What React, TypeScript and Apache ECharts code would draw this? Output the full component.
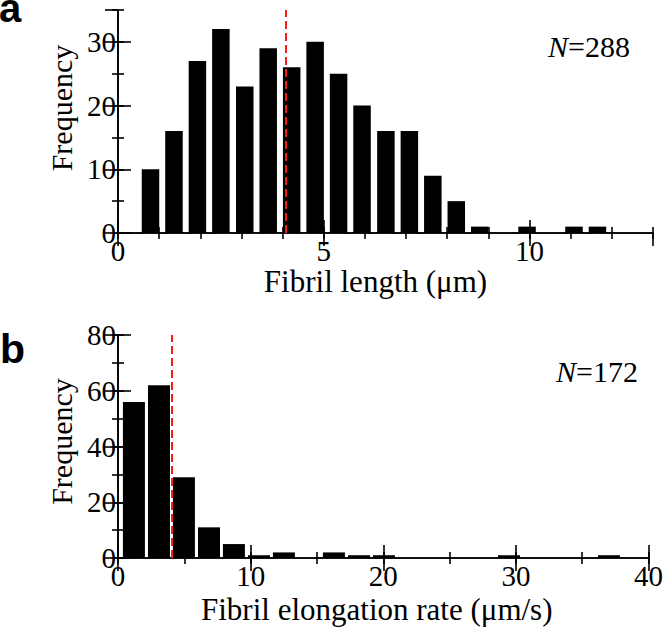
import React, { useEffect, useRef } from "react";
import * as echarts from "echarts";

// Panel a: fibril length histogram
const lengthBinCenters = [0.79, 1.36, 1.93, 2.5, 3.08, 3.65, 4.22, 4.79, 5.36, 5.93, 6.51, 7.08, 7.65, 8.22, 8.79, 9.36, 9.94, 10.51, 11.08, 11.65];
const lengthCounts = [10, 16, 27, 32, 23, 29, 26, 30, 25, 20, 16, 16, 9, 5, 1, 0, 1, 0, 1, 1];
const lengthMean = 4.08;
const lengthN = "288";

// Panel b: elongation rate histogram
const rateBinCenters = [1.2, 3.09, 4.97, 6.86, 8.74, 10.63, 12.51, 14.4, 16.28, 18.17, 20.05, 21.94, 23.82, 25.71, 27.59, 29.48, 31.36, 33.25, 35.13, 37.02];
const rateCounts = [56, 62, 29, 11, 5, 1, 2, 0, 2, 1, 1, 0, 0, 0, 0, 1, 0, 0, 0, 1];
const rateMean = 4.09;
const rateN = "172";

const FONT = "'Liberation Serif', 'Times New Roman', serif";
const FS = 29;

function axesFor(
  gridIndex: number,
  dim: "x" | "y",
  min: number,
  max: number,
  major: number,
  minor: number,
  name: string,
  nameGap: number,
  namePad: number[],
  nameSize: number,
  hideMax: boolean
) {
  const main = dim === "x" ? "bottom" : "left";
  const other = dim === "x" ? "top" : "right";
  const common = { type: "value", gridIndex, min, max, splitLine: { show: false } };
  const line = { show: true, lineStyle: { color: "#000", width: 1.6 } };
  return [
    {
      ...common,
      position: main,
      interval: major,
      axisLine: line,
      axisTick: { show: true, inside: true, length: 13, lineStyle: { color: "#000", width: 1.6 } },
      axisLabel: {
        show: true,
        color: "#000",
        fontFamily: FONT,
        fontSize: FS,
        margin: dim === "x" ? 3 : 2,
        showMaxLabel: !hideMax,
      },
      name,
      nameLocation: "middle",
      nameGap,
      nameTextStyle: { color: "#000", fontFamily: FONT, fontSize: nameSize, padding: namePad },
    },
    {
      ...common,
      position: main,
      interval: minor,
      axisLine: { show: false },
      axisTick: { show: true, inside: true, length: 6, lineStyle: { color: "#000", width: 1.6 } },
      axisLabel: { show: false },
    },
    {
      ...common,
      position: other,
      interval: major,
      axisLine: line,
      axisTick: { show: true, inside: true, length: 13, lineStyle: { color: "#000", width: 1.6 } },
      axisLabel: { show: false },
    },
    {
      ...common,
      position: other,
      interval: minor,
      axisLine: { show: false },
      axisTick: { show: true, inside: true, length: 6, lineStyle: { color: "#000", width: 1.6 } },
      axisLabel: { show: false },
    },
  ];
}

function barSeries(gridAxisOffset: number, centers: number[], counts: number[], width: number, mean: number) {
  return {
    type: "bar",
    xAxisIndex: gridAxisOffset,
    yAxisIndex: gridAxisOffset,
    data: centers.map((c, i) => [c, counts[i]]),
    barWidth: width,
    itemStyle: { color: "#000" },
    silent: true,
    markLine: {
      silent: true,
      symbol: "none",
      label: { show: false },
      lineStyle: { color: "#ff1a1a", type: [8, 4], width: 2 },
      data: [{ xAxis: mean }],
    },
  };
}

export default function App() {
  const ref = useRef<HTMLDivElement>(null);
  useEffect(() => {
    if (!ref.current) return;
    const chart = echarts.init(ref.current, null, { renderer: "svg" });
    const option = {
      animation: false,
      backgroundColor: "#fff",
      grid: [
        { left: 118, top: 10, width: 535, height: 223 },
        { left: 118, top: 335, width: 535, height: 223 },
      ],
      xAxis: [
        ...axesFor(0, "x", 0, 13, 5, 1, "Fibril length (μm)", 33, [0, 20, 0, 0], 31, true),
        ...axesFor(1, "x", 0, 40, 10, 5, "Fibril elongation rate (μm/s)", 36, [0, 13, 0, 0], 31, false),
      ],
      yAxis: [
        ...axesFor(0, "y", 0, 35, 10, 5, "Frequency", 38, [0, 0, 0, 27], 30, true),
        ...axesFor(1, "y", 0, 80, 20, 10, "Frequency", 38, [0, 0, 0, 10], 30, false),
      ],
      series: [
        barSeries(0, lengthBinCenters, lengthCounts, 17.5, lengthMean),
        barSeries(4, rateBinCenters, rateCounts, 22, rateMean),
      ],
      graphic: [
        {
          type: "text",
          x: -1,
          y: 8,
          style: { text: "a", fontFamily: "'Liberation Sans', Arial, sans-serif", fontWeight: "bold", fontSize: 40, fill: "#000", verticalAlign: "middle" },
        },
        {
          type: "text",
          x: 0,
          y: 349,
          style: { text: "b", fontFamily: "'Liberation Sans', Arial, sans-serif", fontWeight: "bold", fontSize: 41, fill: "#000", verticalAlign: "middle" },
        },
        {
          type: "text",
          x: 630,
          y: 46,
          style: {
            text: "{i|N}=" + lengthN,
            fontFamily: FONT,
            fontSize: 30,
            fill: "#000",
            align: "right",
            verticalAlign: "middle",
            rich: { i: { fontStyle: "italic", fontFamily: FONT, fontSize: 30, fill: "#000" } },
          },
        },
        {
          type: "text",
          x: 638,
          y: 371,
          style: {
            text: "{i|N}=" + rateN,
            fontFamily: FONT,
            fontSize: 30,
            fill: "#000",
            align: "right",
            verticalAlign: "middle",
            rich: { i: { fontStyle: "italic", fontFamily: FONT, fontSize: 30, fill: "#000" } },
          },
        },
      ],
    };
    chart.setOption(option as any);
    return () => chart.dispose();
  }, []);
  return <div ref={ref} style={{ width: 666, height: 628, position: "absolute", left: 0, top: 0 }} />;
}
